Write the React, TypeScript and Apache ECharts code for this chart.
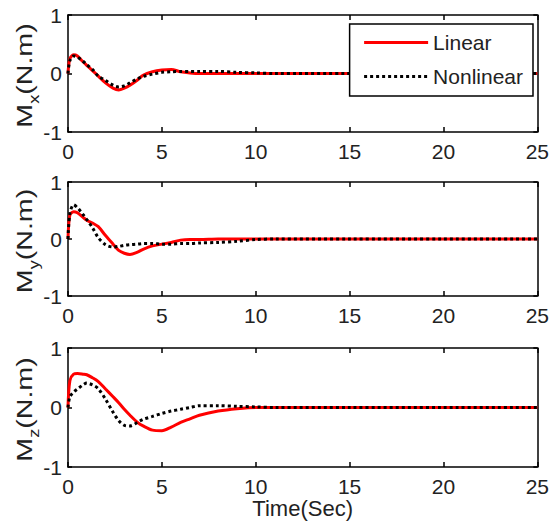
import React, { useEffect, useRef } from "react";
import * as echarts from "echarts";

const T = [0, 0.1, 0.3, 0.5, 0.8, 1.0, 1.3, 1.6, 2.0, 2.4, 2.7, 3.0, 3.3, 3.7, 4.0, 4.5, 5.0, 5.5, 6.0, 6.5, 7.0, 8.0, 9.0, 10.0, 11.0, 15.0, 20.0, 25.0];

const mxLinear = [0, 0.25, 0.32, 0.3, 0.2, 0.14, 0.05, -0.04, -0.16, -0.25, -0.28, -0.25, -0.2, -0.11, -0.03, 0.03, 0.06, 0.07, 0.03, 0.01, 0, 0, 0, 0, 0, 0, 0, 0];
const mxNonlinear = [0, 0.22, 0.3, 0.28, 0.21, 0.15, 0.07, -0.04, -0.12, -0.2, -0.23, -0.21, -0.16, -0.09, -0.05, -0.01, 0.02, 0.03, 0.035, 0.035, 0.035, 0.035, 0.02, 0.01, 0, 0, 0, 0];

const myLinear = [0, 0.42, 0.48, 0.46, 0.38, 0.33, 0.28, 0.22, 0.06, -0.09, -0.2, -0.25, -0.27, -0.23, -0.18, -0.12, -0.09, -0.06, -0.02, -0.01, -0.01, 0, 0, 0, 0, 0, 0, 0];
const myNonlinear = [0, 0.45, 0.6, 0.55, 0.43, 0.34, 0.2, 0.03, -0.1, -0.14, -0.13, -0.11, -0.1, -0.09, -0.08, -0.08, -0.09, -0.09, -0.08, -0.08, -0.07, -0.06, -0.04, -0.01, 0, 0, 0, 0];

const mzLinear = [0, 0.45, 0.56, 0.57, 0.56, 0.55, 0.5, 0.44, 0.31, 0.18, 0.08, -0.03, -0.13, -0.25, -0.31, -0.38, -0.39, -0.33, -0.25, -0.19, -0.13, -0.06, -0.02, 0, 0, 0, 0, 0];
const mzNonlinear = [0, 0.18, 0.26, 0.31, 0.38, 0.41, 0.38, 0.32, 0.14, -0.08, -0.22, -0.3, -0.31, -0.25, -0.2, -0.15, -0.1, -0.06, -0.03, 0, 0.03, 0.03, 0.02, 0.01, 0, 0, 0, 0];

const seriesNames = ["Linear", "Nonlinear"];
const axisSubscripts = ["x", "y", "z"];
const xTicks = { min: 0, max: 25, interval: 5 };
const yTicks = { min: -1, max: 1, interval: 1 };

const FONT = "'Liberation Sans', Arial, sans-serif";
const TEXT = "#222";

const grids = [
  { left: 68, right: 10, top: 15, height: 117 },
  { left: 68, right: 10, top: 182, height: 114 },
  { left: 68, right: 10, top: 348, height: 119 },
];

const pairs = (ys: number[]) => T.map((t, i) => [t, ys[i]]);

export default function App() {
  const ref = useRef<HTMLDivElement>(null);
  useEffect(() => {
    if (!ref.current) return;
    const chart = echarts.init(ref.current, undefined, { renderer: "svg" });
    const panels = [
      [mxLinear, mxNonlinear],
      [myLinear, myNonlinear],
      [mzLinear, mzNonlinear],
    ];
    const line = { show: true, onZero: false, lineStyle: { color: "#000", width: 1.5 } };
    const xAxis: any[] = [];
    const yAxis: any[] = [];
    const series: any[] = [];
    const graphic: any[] = [];
    grids.forEach((g, i) => {
      xAxis.push({
        type: "value", gridIndex: i, position: "bottom", ...xTicks,
        axisLine: line,
        axisTick: { inside: true, length: 5, lineStyle: { color: "#000", width: 1.5 } },
        axisLabel: { fontFamily: FONT, fontSize: 21, color: TEXT, margin: 9 },
        splitLine: { show: false },
        name: i === 2 ? "Time(Sec)" : "",
        nameLocation: "middle",
        nameGap: 24,
        nameTextStyle: { fontFamily: FONT, fontSize: 22, color: TEXT },
      });
      xAxis.push({
        type: "value", gridIndex: i, position: "top", ...xTicks,
        axisLine: line,
        axisTick: { inside: true, length: 5, lineStyle: { color: "#000", width: 1.5 } },
        axisLabel: { show: false },
        splitLine: { show: false },
      });
      yAxis.push({
        type: "value", gridIndex: i, position: "left", ...yTicks,
        axisLine: line,
        axisTick: { inside: true, length: 4, lineStyle: { color: "#000", width: 1.5 } },
        axisLabel: { fontFamily: FONT, fontSize: 21, color: TEXT, margin: 6 },
        splitLine: { show: false },
      });
      yAxis.push({
        type: "value", gridIndex: i, position: "right", ...yTicks,
        axisLine: line,
        axisTick: { inside: true, length: 4, lineStyle: { color: "#000", width: 1.5 } },
        axisLabel: { show: false },
        splitLine: { show: false },
      });
      graphic.push({
        type: "text",
        x: 27,
        y: g.top + g.height / 2 + 2,
        rotation: Math.PI / 2,
        scaleX: 1.3,
        style: {
          text: `{a|M}{b|${axisSubscripts[i]}}{a|(N.m)}`,
          align: "center",
          verticalAlign: "middle",
          fill: TEXT,
          font: `22px ${FONT}`,
          rich: {
            a: { fontFamily: FONT, fontSize: 22, fill: TEXT, color: TEXT, verticalAlign: "bottom", padding: [0, 0, 5, 0] },
            b: { fontFamily: FONT, fontSize: 14, fill: TEXT, color: TEXT, verticalAlign: "bottom" },
          },
        },
      });
      const [lin, non] = panels[i];
      series.push({
        name: seriesNames[0], type: "line", xAxisIndex: i * 2, yAxisIndex: i * 2,
        data: pairs(lin), symbol: "none", smooth: 0.3,
        lineStyle: { color: "#ff0000", width: 3 }, itemStyle: { color: "#ff0000" },
      });
      series.push({
        name: seriesNames[1], type: "line", xAxisIndex: i * 2, yAxisIndex: i * 2,
        data: pairs(non), symbol: "none", smooth: 0.3,
        lineStyle: { color: "#000", width: 3, type: [3, 3] }, itemStyle: { color: "#000" },
      });
    });
    chart.setOption({
      animation: false,
      backgroundColor: "#fff",
      grid: grids,
      xAxis,
      yAxis,
      series,
      graphic,
      legend: {
        data: seriesNames,
        orient: "vertical",
        right: 19,
        top: 24,
        itemWidth: 64,
        itemHeight: 14,
        itemGap: 13,
        padding: [8, 10, 9, 13],
        borderColor: "#000",
        borderWidth: 1.5,
        backgroundColor: "#fff",
        itemStyle: { opacity: 0 },
        lineStyle: { width: 3 },
        textStyle: { fontFamily: FONT, fontSize: 21, color: TEXT },
      },
    });
    return () => chart.dispose();
  }, []);
  return <div ref={ref} style={{ width: 552, height: 521, position: "absolute", left: 0, top: 0 }} />;
}
